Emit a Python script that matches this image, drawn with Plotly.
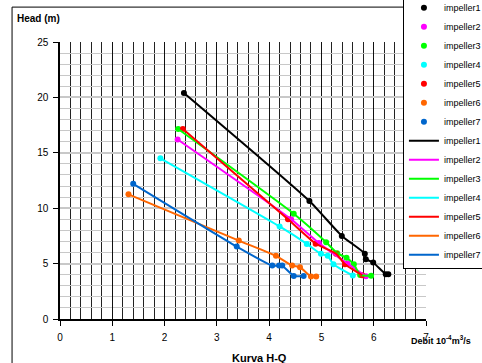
import plotly.graph_objects as go

names = ["impeller1", "impeller2", "impeller3", "impeller4", "impeller5", "impeller6", "impeller7"]
colors = ["#000000", "#ff00ff", "#00ff00", "#00ffff", "#ff0000", "#ff6600", "#0066cc"]

q1 = [2.37, 4.77, 5.39, 5.83, 5.85, 5.99, 6.23, 6.28]
h1 = [20.4, 10.65, 7.5, 5.9, 5.4, 5.1, 4.05, 4.05]
q2 = [2.25, 4.42, 4.95, 5.5, 5.85]
h2 = [16.2, 9.0, 6.85, 5.0, 3.85]
q3 = [2.26, 4.47, 5.09, 5.30, 5.48, 5.62, 5.74, 5.95]
h3 = [17.15, 9.5, 6.93, 5.94, 5.52, 4.94, 3.98, 3.9]
q4 = [1.92, 4.20, 4.72, 4.99, 5.12, 5.23, 5.60]
h4 = [14.5, 8.35, 6.78, 5.88, 5.70, 4.94, 3.92]
q5 = [2.35, 4.36, 4.89, 5.28, 5.45, 5.78]
h5 = [17.15, 9.0, 6.8, 5.9, 4.94, 3.95]
q6 = [1.31, 3.42, 4.13, 4.44, 4.59, 4.80, 4.90]
h6 = [11.25, 7.08, 5.70, 4.82, 4.67, 3.83, 3.83]
q7 = [1.40, 3.38, 4.06, 4.19, 4.25, 4.47, 4.66]
h7 = [12.2, 6.54, 4.82, 4.82, 4.82, 3.89, 3.89]

Q = [q1, q2, q3, q4, q5, q6, q7]
H = [h1, h2, h3, h4, h5, h6, h7]

FONT = "Liberation Sans, Arial, sans-serif"

fig = go.Figure()
for n, c, q, h in zip(names, colors, Q, H):
    fig.add_trace(go.Scatter(x=q, y=h, mode="markers", name=n,
                             marker=dict(color=c, size=6)))
for n, c, q, h in zip(names, colors, Q, H):
    fig.add_trace(go.Scatter(x=q, y=h, mode="lines", name=n,
                             line=dict(color=c, width=2, shape="spline", smoothing=0.5)))

fig.update_layout(
    width=482, height=363,
    margin=dict(l=60, r=56, t=42, b=44, autoexpand=False),
    paper_bgcolor="white", plot_bgcolor="white",
    font=dict(family=FONT, size=10, color="black"),
    showlegend=True,
    legend=dict(x=0.937, y=0.18, xanchor="left", yanchor="bottom",
                bgcolor="white", bordercolor="black", borderwidth=1,
                font=dict(size=9, family=FONT), tracegroupgap=0),
    xaxis=dict(range=[0, 7], dtick=1, tick0=0, showgrid=True, gridcolor="#111111", gridwidth=1,
               minor=dict(dtick=0.2, showgrid=True, gridcolor="#222222", gridwidth=1),
               showline=True, linecolor="black", linewidth=1.5,
               ticks="outside", ticklen=5, tickcolor="black", ticklabelstandoff=3,
               zeroline=False, fixedrange=True),
    yaxis=dict(range=[0, 25], dtick=5, tick0=0, showgrid=True, gridcolor="#c8c8c8", gridwidth=2,
               minor=dict(dtick=1, showgrid=True, gridcolor="#c8c8c8", gridwidth=1),
               showline=True, linecolor="black", linewidth=1.5,
               ticks="outside", ticklen=5, tickcolor="black", ticklabelstandoff=3,
               zeroline=False, fixedrange=True),
    shapes=[dict(type="rect", xref="paper", yref="paper",
                 x0=-0.131, x1=1.4, y0=-0.5, y1=1.126,
                 line=dict(color="black", width=1), layer="below")],
    annotations=[
        dict(text="<b>Head (m)</b>", xref="paper", yref="paper", x=-0.123, y=1.085,
             xanchor="left", yanchor="middle", showarrow=False, font=dict(size=10, family=FONT)),
        dict(text="<b>Kurva H-Q</b>", xref="paper", yref="paper", x=0.546, y=-0.141,
             xanchor="center", yanchor="middle", showarrow=False, font=dict(size=11, family=FONT)),
        dict(text="<b>Debit 10<sup>-4</sup>m<sup>3</sup>/s</b>", xref="paper", yref="paper",
             x=0.953, y=-0.076, xanchor="left", yanchor="middle", showarrow=False,
             font=dict(size=9, family=FONT)),
    ],
)

fig.write_html("out.html", config={"displayModeBar": False},
               post_script="document.body.style.margin='0';document.body.style.overflow='hidden';")
